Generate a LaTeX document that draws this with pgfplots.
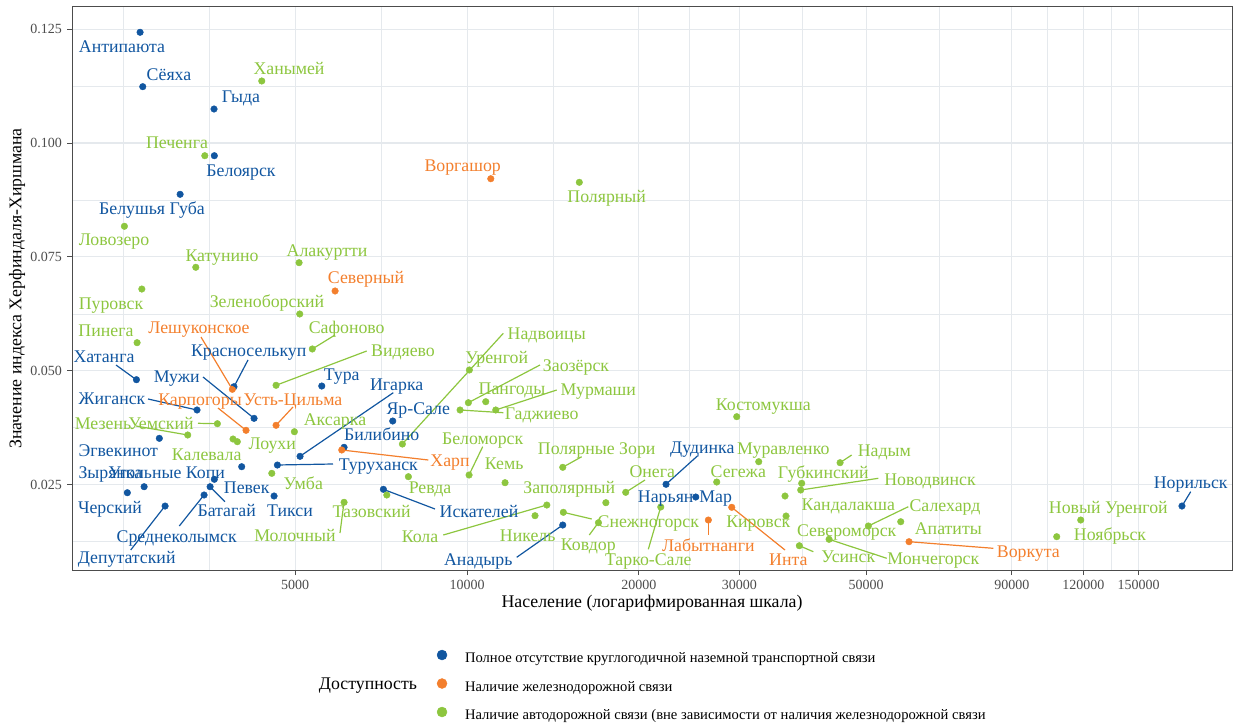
\documentclass[border=0pt]{standalone}
\usepackage{fontspec}
\setmainfont{Liberation Serif}
\usepackage{pgfplots}
\pgfplotsset{compat=1.18}

\definecolor{cblue}{RGB}{17,86,160}
\definecolor{corange}{RGB}{243,127,45}
\definecolor{cgreen}{RGB}{141,198,63}
\definecolor{gridc}{RGB}{229,233,237}
\definecolor{tickc}{RGB}{77,77,77}
\newcommand{\lab}{\fontsize{17.8}{20}\selectfont}

\tikzset{
  px/.style={x=1pt,y=-1pt,shift={(-72pt,570pt)}},
  lb/.style={text=cblue,font=\lab,inner sep=0pt,anchor=base,yshift=-5.5pt},
  lo/.style={text=corange,font=\lab,inner sep=0pt,anchor=base,yshift=-5.5pt},
  lg/.style={text=cgreen,font=\lab,inner sep=0pt,anchor=base,yshift=-5.5pt},
  sb/.style={draw=cblue,line width=1.2pt},
  so/.style={draw=corange,line width=1.2pt},
  sg/.style={draw=cgreen,line width=1.2pt},
}

\begin{document}
\begin{tikzpicture}
\begin{scope}[px]
\useasboundingbox (0,0) rectangle (1237,721);
\end{scope}
\begin{axis}[
  at={(0pt,0pt)}, anchor=south west,
  scale only axis, width=1160pt, height=563pt,
  xmode=log, xmin=2033, xmax=218640, ymin=0.00628, ymax=0.12985,
  xtick={5000,10000,20000,30000,50000,90000,120000,150000},
  xticklabels={5000,10000,20000,30000,50000,90000,120000,150000},
  minor xtick={2500,3536,7071,14142,24495,38730,67082,103923,134164},
  ytick={0.025,0.05,0.075,0.1,0.125},
  yticklabels={0.025,0.050,0.075,0.100,0.125},
  minor ytick={0.0125,0.0375,0.0625,0.0875,0.1125},
  grid=both,
  major grid style={draw=gridc,line width=1.1pt},
  minor grid style={draw=gridc,line width=0.7pt},
  minor tick length=0pt,
  major tick length=5pt,
  tick align=outside,
  tick pos=left,
  major tick style={draw=tickc,line width=0.9pt},
  axis line style={draw=black!70,line width=1pt},
  ticklabel style={font=\fontsize{14}{16}\selectfont,text=tickc},
  xticklabel style={inner sep=0pt,anchor=north},
  yticklabel style={inner sep=0pt,anchor=east},
  xticklabel shift=5pt,
  yticklabel shift=5pt,
  xlabel={Население (логарифмированная шкала)},
  ylabel={Значение индекса Херфиндаля-Хиршмана},
  label style={font=\lab},
  xlabel style={at={(axis description cs:0.5,-0.0586)},anchor=center,inner sep=0pt},
  ylabel style={at={(axis description cs:-0.0474,0.5)},anchor=center,inner sep=0pt},
  legend style={at={(axis description cs:0.31466,-0.1421)},anchor=north west,
    draw=none,fill=none,inner sep=0pt,outer sep=0pt,
    font=\fontsize{14.6}{16}\selectfont,row sep=13pt,
    nodes={inner sep=0pt,text height=10pt,text depth=3pt},
    /tikz/every odd column/.append style={column sep=18pt}},
  legend cell align=left,
  legend image code/.code={\draw[#1,mark size=5pt] plot coordinates {(0pt,4pt)};},
  clip=false,
]
\addplot[only marks,mark=*,mark size=3.3pt,color=cblue] coordinates {
(2675,0.12430) (2704,0.11236) (3605,0.10746) (3609,0.09721) (3144,0.08874)
(3907,0.04651) (2636,0.04805) (4236,0.03957) (5566,0.04666) (5099,0.03123)
(3366,0.04140) (2891,0.03518) (6090,0.03321) (4654,0.02932) (7411,0.03898)
(4030,0.02895) (3609,0.02619) (3548,0.02456) (3463,0.02274) (2959,0.02032)
(2719,0.02456) (2541,0.02324) (4592,0.02252) (7136,0.02399) (14710,0.01615)
(22310,0.02509) (25150,0.02230) (178700,0.02032)
};
\addlegendentry{Полное отсутствие круглогодичной наземной транспортной связи}
\addplot[only marks,mark=*,mark size=3.3pt,color=corange] coordinates {
(11004,0.09216) (5873,0.06752) (3881,0.04594) (4101,0.03694) (4629,0.03804)
(6034,0.03262) (26460,0.01725) (29080,0.02004) (59440,0.01249)
};
\addlegendentry{Наличие железнодорожной связи}
\addplot[only marks,mark=*,mark size=3.3pt,color=cgreen] coordinates {
(4370,0.11361) (3473,0.09721) (2511,0.08172) (3349,0.07272) (5079,0.07373)
(2694,0.06795) (5093,0.06247) (2643,0.05617) (5358,0.05479) (4629,0.04682)
(3242,0.03591) (3654,0.03839) (3892,0.03503) (3960,0.03444) (4984,0.03663)
(4550,0.02750) (6090,0.02114) (7235,0.02274) (7894,0.02676) (7705,0.03393)
(10093,0.05018) (10053,0.04300) (10783,0.04322) (11228,0.04140) (9722,0.04140)
(10081,0.02713) (11656,0.02544) (14710,0.02882) (17503,0.02105) (13795,0.02054)
(13153,0.01820) (16988,0.01666) (14745,0.01894) (18963,0.02333) (21840,0.02011)
(29672,0.03993) (32425,0.03005) (27371,0.02559) (38566,0.02531) (38410,0.02384)
(36050,0.02252) (36199,0.01813) (50442,0.01594) (57485,0.01688) (43057,0.01302)
(38194,0.01161) (45009,0.02983) (118800,0.01725) (107830,0.01359) (15726,0.09137)
};
\addlegendentry{Наличие автодорожной связи (вне зависимости от наличия железнодорожной связи}
\end{axis}

\begin{scope}[px]
% leader lines
\draw[sb] (234,386.7) -- (248,360);
\draw[sb] (136.3,379.7) -- (116,365);
\draw[sb] (254,418.3) -- (203,377);
\draw[sb] (300,456.3) -- (393.3,392.7);
\draw[sb] (197,410) -- (148,399);
\draw[sb] (277.3,465) -- (333,464);
\draw[sb] (210,486.7) -- (225,501.7);
\draw[sb] (204,495) -- (179.3,526);
\draw[sb] (165,506) -- (130.7,550);
\draw[sb] (383.3,489.3) -- (435,509);
\draw[sb] (562.7,525) -- (516.7,557.3);
\draw[sb] (666,484.3) -- (697.7,455.7);
\draw[sb] (1182,506) -- (1190.7,491.7);
\draw[so] (232.3,389.3) -- (201,337);
\draw[so] (246,430.3) -- (218,408);
\draw[so] (276,425.3) -- (293,407);
\draw[so] (341.7,450) -- (428.3,460);
\draw[so] (708.3,520) -- (708.3,535);
\draw[so] (731.7,507.3) -- (785,550);
\draw[so] (909,541.7) -- (993.3,548.3);
\draw[sg] (312.3,349) -- (335,335);
\draw[sg] (276,385.3) -- (366.7,351);
\draw[sg] (187.7,435) -- (136,426);
\draw[sg] (217.3,423.7) -- (198,423.3);
\draw[sg] (344,502.3) -- (340,533);
\draw[sg] (402.3,444) -- (503.3,333.3);
\draw[sg] (468.3,402.7) -- (540,365);
\draw[sg] (495.7,410) -- (556.7,390);
\draw[sg] (460,410) -- (503.3,412.7);
\draw[sg] (469,475) -- (482.7,446.7);
\draw[sg] (562.7,467.3) -- (581.7,456.7);
\draw[sg] (546.7,505) -- (443.3,535);
\draw[sg] (598.3,522.7) -- (589.3,535);
\draw[sg] (563.3,512.3) -- (591.7,519);
\draw[sg] (625.7,492.3) -- (645,480);
\draw[sg] (660.7,507) -- (648.3,549.3);
\draw[sg] (840,462.7) -- (851.7,455);
\draw[sg] (800.7,490) -- (878.3,478.3);
\draw[sg] (868.3,526) -- (908.3,506.7);
\draw[sg] (829,539.3) -- (886.7,558.3);
\draw[sg] (799.3,545.7) -- (813.3,551.7);
% blue labels
\node[lb] at (122,47) {Антипаюта};
\node[lb] at (169,75) {Сёяха};
\node[lb] at (241,97) {Гыда};
\node[lb] at (241,171) {Белоярск};
\node[lb] at (152,209) {Белушья Губа};
\node[lb] at (248.7,351) {Красноселькуп};
\node[lb] at (104,357) {Хатанга};
\node[lb] at (176.7,376.7) {Мужи};
\node[lb] at (341.7,375) {Тура};
\node[lb] at (396.7,385) {Игарка};
\node[lb] at (112,399.3) {Жиганск};
\node[lb] at (118.3,450.7) {Эгвекинот};
\node[lb] at (381.7,435) {Билибино};
\node[lb] at (378.3,465) {Туруханск};
\node[lb] at (418.3,409.3) {Яр-Сале};
\node[lb] at (246.7,488.3) {Певек};
\node[lb,anchor=base east] at (225,473.3) {Угольные Копи};
\node[lb,anchor=base west] at (78.3,473.3) {Зырянка};
\node[lb] at (110,508.3) {Черский};
\node[lb] at (226.7,510.7) {Батагай};
\node[lb] at (290,510.7) {Тикси};
\node[lb] at (176.7,536.7) {Среднеколымск};
\node[lb] at (126.7,558.3) {Депутатский};
\node[lb] at (479,512) {Искателей};
\node[lb] at (478.3,560) {Анадырь};
\node[lb] at (702.3,447.7) {Дудинка};
\node[lb] at (685,496.7) {Нарьян-Мар};
\node[lb] at (1190.7,483.3) {Норильск};
% orange labels
\node[lo] at (462.7,165.7) {Воргашор};
\node[lo] at (366,278) {Северный};
\node[lo] at (199,327.7) {Лешуконское};
\node[lo] at (200,400) {Карпогоры};
\node[lo] at (293,400) {Усть-Цильма};
\node[lo] at (450,460.7) {Харп};
\node[lo] at (708.3,546) {Лабытнанги};
\node[lo] at (788.3,560) {Инта};
\node[lo] at (1028.3,551.7) {Воркута};
% green labels
\node[lg] at (289,69) {Ханымей};
\node[lg] at (177,143) {Печенга};
\node[lg] at (114,240) {Ловозеро};
\node[lg] at (222,256) {Катунино};
\node[lg] at (327,251) {Алакуртти};
\node[lg] at (111,304) {Пуровск};
\node[lg] at (267,302) {Зеленоборский};
\node[lg] at (106,330.7) {Пинега};
\node[lg] at (346.7,327.7) {Сафоново};
\node[lg] at (403,351) {Видяево};
\node[lg] at (103,424) {Мезень};
\node[lg] at (161,424) {Уемский};
\node[lg] at (206.7,455) {Калевала};
\node[lg] at (272.3,444.3) {Лоухи};
\node[lg] at (335,420) {Аксарка};
\node[lg] at (303.3,484) {Умба};
\node[lg] at (371.7,511.7) {Тазовский};
\node[lg] at (295,536) {Молочный};
\node[lg] at (430,488.3) {Ревда};
\node[lg] at (546.7,334.3) {Надвоицы};
\node[lg] at (496.7,358.3) {Уренгой};
\node[lg] at (576,365.7) {Заозёрск};
\node[lg] at (512,389) {Пангоды};
\node[lg] at (598.3,390) {Мурмаши};
\node[lg] at (541.7,414) {Гаджиево};
\node[lg] at (482.7,438.5) {Беломорск};
\node[lg] at (504.2,464) {Кемь};
\node[lg] at (596.7,449.3) {Полярные Зори};
\node[lg] at (569.3,488.3) {Заполярный};
\node[lg] at (420,536.7) {Кола};
\node[lg] at (527.7,536) {Никель};
\node[lg] at (588.3,545) {Ковдор};
\node[lg] at (648.3,521.7) {Снежногорск};
\node[lg] at (652.3,472.3) {Онега};
\node[lg] at (648.3,560) {Тарко-Сале};
\node[lg] at (763.3,405) {Костомукша};
\node[lg] at (783.3,449) {Муравленко};
\node[lg] at (738.3,472.3) {Сегежа};
\node[lg] at (823.3,473.3) {Губкинский};
\node[lg] at (930,480) {Новодвинск};
\node[lg] at (848.3,505) {Кандалакша};
\node[lg] at (758.3,521.7) {Кировск};
\node[lg] at (945,506) {Салехард};
\node[lg] at (948.3,529.3) {Апатиты};
\node[lg] at (846.7,530.7) {Североморск};
\node[lg] at (933.3,559) {Мончегорск};
\node[lg] at (848.3,556.7) {Усинск};
\node[lg] at (884.3,450.7) {Надым};
\node[lg] at (1108.3,507.7) {Новый Уренгой};
\node[lg] at (1110,535) {Ноябрьск};
\node[lg] at (606.7,197.3) {Полярный};
% legend title
\node[font=\lab,inner sep=0pt,anchor=base,yshift=-5.5pt] at (368,684) {Доступность};
\end{scope}
\end{tikzpicture}
\end{document}
